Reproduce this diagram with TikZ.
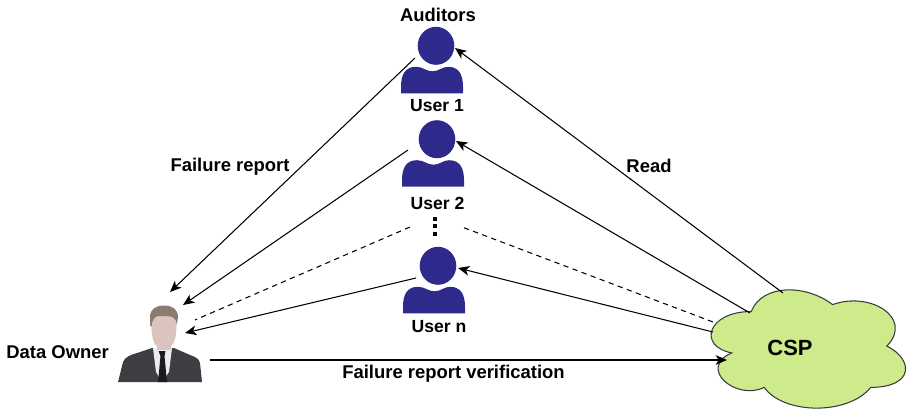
\documentclass[tikz,border=0pt]{standalone}
\usepackage{fontspec}
\setmainfont{Liberation Sans}
\usetikzlibrary{arrows.meta}
\definecolor{userblue}{RGB}{46,42,140}
\definecolor{cloudfill}{RGB}{205,235,139}
\definecolor{cloudline}{RGB}{54,57,61}
\definecolor{suit}{RGB}{62,62,66}
\definecolor{hair}{RGB}{139,123,112}
\definecolor{skin}{RGB}{220,196,190}
\definecolor{shirt}{RGB}{234,238,244}
\definecolor{tiecol}{RGB}{27,27,30}
\begin{document}
\begin{tikzpicture}[x=0.02cm,y=-0.02cm,
  lbl/.style={font=\bfseries\fontsize{10.5}{12}\selectfont, inner sep=0pt, anchor=base},
  ulbl/.style={lbl, font=\bfseries\fontsize{10}{12}\selectfont},
  link/.style={line width=0.6pt, -{Stealth[length=6.5pt,width=5.5pt,inset=1.8pt]}},
  dashlink/.style={line width=0.6pt, dash pattern=on 3pt off 2.5pt},
  usericon/.pic={
    \fill[userblue] (0,0) ellipse [x radius=18.3, y radius=19];
    \fill[userblue] (-35,47.5) -- (-35,41)
      .. controls (-35,29) and (-31,21) .. (-20,21)
      .. controls (-13,21) and (-10,25.5) .. (-3.5,25.5)
      .. controls (3,25.5) and (6,21) .. (12,21)
      .. controls (23,21) and (27,29) .. (27,41)
      -- (27,47.5) -- cycle;
  }]
\useasboundingbox (0,0) rectangle (907,410);

% users
\coordinate (u1) at (436,45.8);
\coordinate (u2) at (437,139.2);
\coordinate (un) at (438,265.8);
\pic at (u1) {usericon};
\pic at (u2) {usericon};
\pic at (un) {usericon};
\node[lbl] (auditors) at (438,21) {Auditors};
\node[ulbl] (u1lbl) at (437,111) {User 1};
\node[ulbl] (u2lbl) at (437.5,209) {User 2};
\node[ulbl] (unlbl) at (439,332.5) {User n};

% vertical ellipsis between User 2 and User n
\foreach \yy in {218.5,226,233.5}
  \fill (433,\yy-2) rectangle (437,\yy+2);

% data owner figure
\fill[suit] (118,382) -- (123,362)
  .. controls (125,357) and (130,355) .. (137,353) -- (152,348) -- (174,348)
  -- (190,355) .. controls (196,357) and (199,359) .. (200,363) -- (202,382) -- cycle;
\fill[shirt] (153,348) -- (172,348) -- (169,372) -- (162,382) -- (156,372) -- cycle;
\fill[skin] (157,336) rectangle (171,350);
\fill[tiecol] (158.5,351) -- (165.5,351) -- (164.5,356) -- (167,382) -- (158,382) -- (160.5,356) -- cycle;
\fill[skin] (150.5,319) .. controls (150.5,311) and (156,308.5) .. (164,308.5)
  .. controls (172,308.5) and (177,311) .. (177,320) -- (176,334)
  .. controls (175,344) and (170,349) .. (164,349)
  .. controls (157,349) and (153,344) .. (152,334) -- cycle;
\fill[hair] (150,326) -- (150,317) .. controls (150,309) and (156,305.5) .. (164,305.5)
  .. controls (172,305.5) and (178,309) .. (178,317) -- (177,324)
  .. controls (176,319) and (173,316) .. (167,316) -- (158,316)
  .. controls (154,317) and (152,321) .. (151.5,326) -- cycle;
\node[lbl, anchor=base west] (ownerlbl) at (6,358) {Data Owner};

% cloud
\filldraw[fill=cloudfill, draw=cloudline, line width=0.6pt]
  (751.25,311.5) .. controls (707.85,311.5) and (697,346) .. (731.72,352.9)
  .. controls (697,368.08) and (736.06,401.2) .. (764.27,387.4)
  .. controls (783.8,415) and (848.9,415) .. (870.6,387.4)
  .. controls (914,387.4) and (914,359.8) .. (886.875,346)
  .. controls (914,318.4) and (870.6,290.8) .. (832.625,304.6)
  .. controls (805.5,283.9) and (762.1,283.9) .. (751.25,311.5) -- cycle;
\node[lbl, font=\bfseries\fontsize{12.5}{14}\selectfont] (csp) at (790,355) {CSP};

% connector end points
\coordinate (u1out) at (415,58);
\coordinate (u2out) at (408,150);
\coordinate (dotsL) at (410,227);
\coordinate (unout) at (416,278);
\coordinate (own1) at (170,292);
\coordinate (own2) at (183,305);
\coordinate (own3) at (195,320);
\coordinate (own4) at (185,333);
\coordinate (ownR) at (210,360);
\coordinate (cspL) at (727,360);
\coordinate (csp1) at (783,293);
\coordinate (csp2) at (750,313);
\coordinate (csp3) at (713,322);
\coordinate (csp4) at (713,332);
\coordinate (u1in) at (455,48);
\coordinate (u2in) at (456,141);
\coordinate (dotsR) at (462,227);
\coordinate (unin) at (458,268);

% failure reports to the data owner
\draw[link] (u1out) -- (own1);
\draw[link] (u2out) -- (own2);
\draw[dashlink] (dotsL) -- (own3);
\draw[link] (unout) -- (own4);
% reads from the CSP
\draw[link] (csp1) -- (u1in);
\draw[link] (csp2) -- (u2in);
\draw[dashlink] (csp3) -- (dotsR);
\draw[link] (csp4) -- (unin);
% verification
\draw[link] (ownR) -- (cspL);

\node[lbl] (frlbl) at (230,171) {Failure report};
\node[lbl] (readlbl) at (649,172) {Read};
\node[lbl] (verlbl) at (453.5,378) {Failure report verification};
\end{tikzpicture}
\end{document}
